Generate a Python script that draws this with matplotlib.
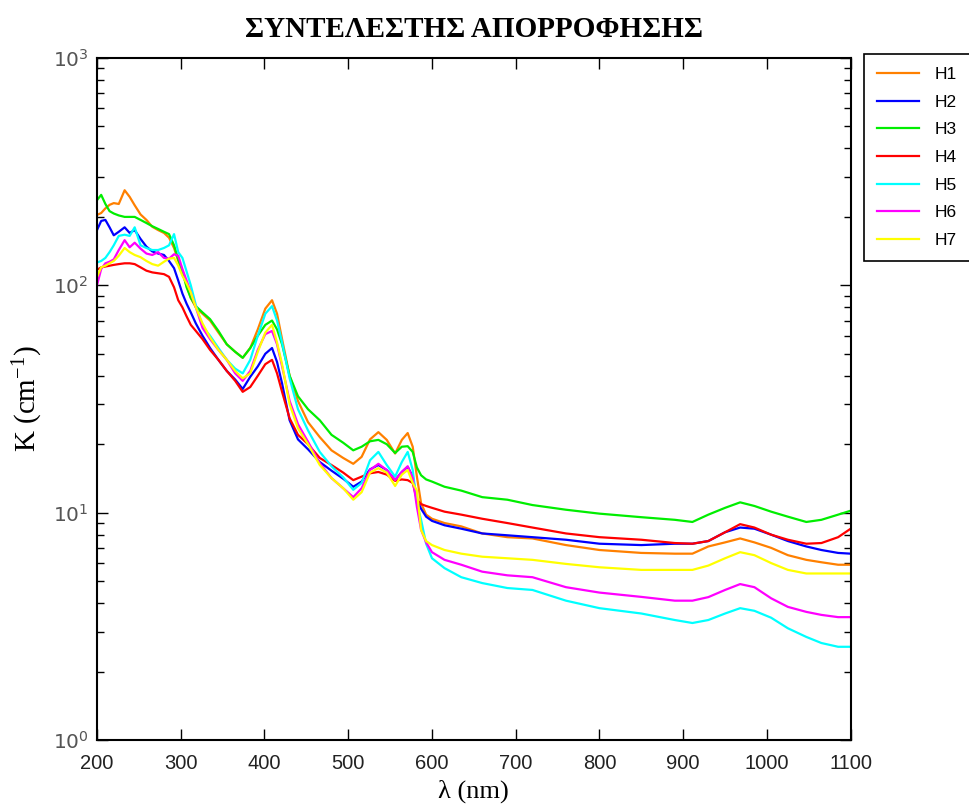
import matplotlib
matplotlib.use("Agg")
import matplotlib.pyplot as plt
from matplotlib.ticker import FixedLocator, LogLocator, NullFormatter

wavelength = [200, 205, 210, 215, 220, 226, 233, 239, 245, 252, 259, 266, 273, 280, 286, 292, 297, 302, 307, 312,
              318, 326, 335, 345, 355, 365, 374, 383, 392, 401, 409, 415, 421, 430, 440, 452, 466, 480, 494, 506,
              516, 526, 536, 546, 556, 564, 571, 577, 582, 587, 593, 600, 615, 635, 660, 690, 720, 760, 800, 850,
              890, 911, 930, 950, 968, 985, 1005, 1025, 1047, 1065, 1085, 1100]

H1 = [204, 208, 218, 226, 230, 228, 262, 245, 225, 205, 194, 181, 175, 170, 162, 146, 128, 114, 100, 88,
      80, 75, 70, 62, 55, 51, 48, 53, 64, 79, 86, 75, 58, 40, 31, 25, 21.5, 18.8, 17.4, 16.4,
      17.6, 21, 22.6, 20.9, 18.2, 20.9, 22.4, 19.5, 14.4, 11, 9.8, 9.4, 9.0, 8.7, 8.1, 7.8, 7.7, 7.2, 6.85, 6.65,
      6.6, 6.6, 7.1, 7.4, 7.7, 7.4, 7.0, 6.5, 6.2, 6.05, 5.9, 5.9]

H2 = [175, 192, 194, 180, 166, 172, 180, 170, 175, 160, 148, 141, 138, 136, 128, 119, 105, 92, 83, 76,
      68, 60, 53, 47, 42, 38.5, 35, 39.6, 44, 50, 53, 46, 37, 25.5, 21, 19, 16.7, 15.3, 14.1, 13,
      13.7, 15.5, 16.2, 15.4, 13.9, 15.1, 15.9, 14.4, 11.4, 10.4, 9.6, 9.2, 8.8, 8.5, 8.1, 7.95, 7.8, 7.6, 7.3, 7.2,
      7.3, 7.3, 7.5, 8.2, 8.6, 8.5, 8.0, 7.5, 7.1, 6.85, 6.65, 6.6]

H3 = [237, 250, 228, 212, 207, 203, 200, 200, 200, 194, 188, 182, 177, 172, 168, 150, 130, 115, 98, 88,
      81, 76, 71, 63, 55, 51, 48, 53, 60, 67, 70, 64, 55, 40, 32.5, 28.5, 25.5, 22, 20.3, 18.8,
      19.5, 20.6, 20.9, 20, 18.3, 19.5, 19.6, 18.5, 15.8, 14.6, 14, 13.7, 13.0, 12.5, 11.7, 11.4, 10.8, 10.3, 9.9, 9.55,
      9.3, 9.1, 9.8, 10.5, 11.1, 10.7, 10.1, 9.6, 9.1, 9.3, 9.8, 10.2]

H4 = [117, 120, 121, 122, 123, 124, 125, 125, 124, 120, 116, 114, 113, 112, 109, 98, 86, 80, 73, 67,
      63, 58, 52, 47, 42, 38, 34, 35.7, 40, 45, 47, 41, 34, 26, 22, 20, 17.4, 16.2, 15, 13.9,
      14.4, 14.9, 15.1, 14.7, 13.8, 14, 13.9, 13.5, 11.4, 10.9, 10.7, 10.5, 10.1, 9.8, 9.4, 9.0, 8.6, 8.1, 7.8, 7.6,
      7.35, 7.3, 7.5, 8.2, 8.9, 8.6, 8.0, 7.6, 7.3, 7.35, 7.8, 8.5]

H5 = [126, 128, 132, 140, 150, 165, 167, 165, 180, 150, 146, 143, 143, 146, 150, 168, 140, 132, 115, 100,
      82, 66, 60, 53, 47, 43, 41, 47, 60, 75, 81, 70, 56, 39, 28.5, 23, 18.5, 16, 14.3, 12.6,
      13.5, 17, 18.5, 16.2, 14.4, 16.7, 18.5, 15.4, 11, 9.3, 7.3, 6.3, 5.7, 5.2, 4.9, 4.66, 4.57, 4.1, 3.8, 3.6,
      3.37, 3.27, 3.37, 3.6, 3.8, 3.7, 3.45, 3.1, 2.84, 2.67, 2.57, 2.57]

H6 = [100, 118, 125, 127, 130, 143, 158, 147, 154, 145, 138, 136, 140, 132, 131, 137, 135, 118, 105, 93,
      80, 65, 58, 52, 47, 41, 38, 42, 52, 61, 63, 55, 44, 31, 24.5, 20.5, 16.5, 14.2, 12.8, 11.7,
      12.8, 15.4, 16.4, 15.4, 13.9, 15.1, 16, 14.2, 10.6, 8.4, 7.4, 6.7, 6.2, 5.9, 5.5, 5.3, 5.2, 4.7, 4.45, 4.26,
      4.1, 4.1, 4.25, 4.57, 4.85, 4.7, 4.2, 3.85, 3.66, 3.55, 3.47, 3.47]

H7 = [109, 120, 122, 125, 128, 135, 146, 140, 136, 133, 128, 124, 122, 127, 131, 132, 122, 110, 102, 93,
      80, 68, 59, 52, 47, 42, 39, 41, 51, 62, 67, 56, 45, 30, 23.5, 20, 16.2, 14.2, 12.8, 11.4,
      12.3, 15, 15.7, 15, 13.1, 14.7, 15.4, 13.5, 12.5, 8.4, 7.5, 7.2, 6.85, 6.6, 6.4, 6.3, 6.2, 5.95, 5.75, 5.6,
      5.6, 5.6, 5.85, 6.3, 6.7, 6.5, 6.0, 5.6, 5.4, 5.4, 5.4, 5.4]

labels = ["H1", "H2", "H3", "H4", "H5", "H6", "H7"]
colors = ["#FF8000", "#0000FF", "#00EE00", "#FF0000", "#00FFFF", "#FF00FF", "#FFFF00"]
series = [H1, H2, H3, H4, H5, H6, H7]

x_ticks = [200, 300, 400, 500, 600, 700, 800, 900, 1000, 1100]
y_ticks = [1, 10, 100, 1000]
y_tick_labels = ["$10^{0}$", "$10^{1}$", "$10^{2}$", "$10^{3}$"]

plt.rcParams["mathtext.fontset"] = "custom"
plt.rcParams["mathtext.rm"] = "Liberation Sans"
plt.rcParams["mathtext.it"] = "Liberation Sans"
plt.rcParams["mathtext.default"] = "regular"

fig = plt.figure(figsize=(9.7, 8.08), dpi=100)
fig.patch.set_facecolor("white")
ax = fig.add_axes([0.100, 0.0842, 0.777, 0.8440])

for vals, c, lab in zip(series, colors, labels):
    ax.plot(wavelength, vals, color=c, lw=1.6, label=lab)

ax.set_yscale("log")
ax.set_xlim(200, 1100)
ax.set_ylim(1, 1000)
ax.set_xticks(x_ticks)
ax.set_xticklabels([str(t) for t in x_ticks], family=["Liberation Sans Narrow", "Liberation Sans", "DejaVu Sans"],
                   fontsize=14.5, color="#222222")
ax.yaxis.set_major_locator(FixedLocator(y_ticks))
ax.set_yticklabels(y_tick_labels, fontsize=14.5, color="#555555")
ax.yaxis.set_minor_locator(LogLocator(base=10, subs=range(2, 10)))
ax.yaxis.set_minor_formatter(NullFormatter())

ax.tick_params(which="both", direction="in", top=True, right=True)
ax.tick_params(which="major", length=8, width=1)
ax.tick_params(which="minor", length=5, width=1)
ax.tick_params(axis="x", pad=10)
ax.tick_params(axis="y", pad=6)
for sp in ax.spines.values():
    sp.set_linewidth(1.5)
    sp.set_color("black")

ax.set_title("ΣΥΝΤΕΛΕΣΤΗΣ ΑΠΟΡΡΟΦΗΣΗΣ", family=["Liberation Serif", "DejaVu Serif"], fontweight="bold",
             fontsize=21, pad=15)
fig.text(0.100 + 0.777 / 2, 0.021, "λ (nm)", family=["Liberation Serif", "DejaVu Serif"], fontsize=19,
         ha="center", va="center")
ax.set_ylabel("K (cm$^{-1}$)", family=["Liberation Serif", "DejaVu Serif"], fontsize=21, labelpad=6)
ax.yaxis.label.set_math_fontfamily("dejavuserif")

leg = fig.legend(loc="upper left", bbox_to_anchor=(0.8907, 0.9332), bbox_transform=fig.transFigure,
                 prop={"family": ["Liberation Sans", "DejaVu Sans"], "size": 12.5},
                 fancybox=False, edgecolor="black", framealpha=1, borderaxespad=0,
                 handlelength=2.4, labelspacing=0.72, borderpad=0.75, handletextpad=0.9)
leg.get_frame().set_linewidth(1.2)

fig.savefig("out.png", dpi=100, facecolor="white")
